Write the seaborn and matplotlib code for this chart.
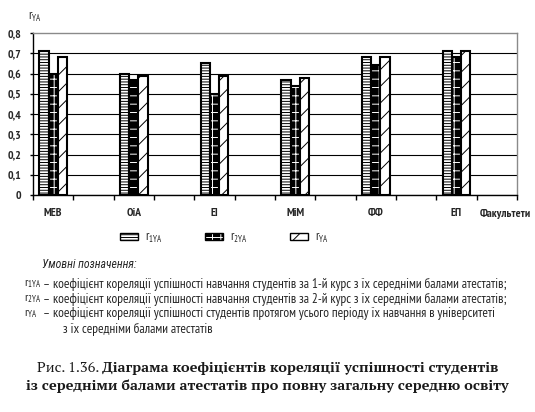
import matplotlib.pyplot as plt
import matplotlib.patches as mpatches
from matplotlib.colors import to_rgba
import numpy as np
import pandas as pd
import seaborn as sns

faculties = ['МЕВ', 'ОіА', 'ЕІ', 'МіМ', 'ФФ', 'ЕП']
r1_ya = [0.71, 0.60, 0.65, 0.57, 0.68, 0.71]
r2_ya = [0.60, 0.57, 0.50, 0.54, 0.64, 0.68]
r_ya = [0.68, 0.59, 0.59, 0.58, 0.68, 0.71]
series_names = ['r1YA', 'r2YA', 'rYA']
series_labels = [r'$\mathregular{r_{1YA}}$', r'$\mathregular{r_{2YA}}$', r'$\mathregular{r_{YA}}$']
y_ticks = [0, 0.1, 0.2, 0.3, 0.4, 0.5, 0.6, 0.7, 0.8]
y_tick_labels = ['0', '0,1', '0,2', '0,3', '0,4', '0,5', '0,6', '0,7', '0,8']

notes = [
    'коефіцієнт кореляції успішності навчання студентів за 1-й курс з їх середніми балами атестатів;',
    'коефіцієнт кореляції успішності навчання студентів за 2-й курс з їх середніми балами атестатів;',
    'коефіцієнт кореляції успішності студентів протягом усього періоду їх навчання в університеті',
]
notes_tail = 'з їх середніми балами атестатів'
caption_head = 'Рис. 1.36. '
caption_1 = 'Діаграма коефіцієнтів кореляції успішності студентів'
caption_2 = 'із середніми балами атестатів про повну загальну середню освіту'

df = pd.DataFrame({
    'faculty': faculties * 3,
    'series': np.repeat(series_names, len(faculties)),
    'value': r1_ya + r2_ya + r_ya,
})

# face colour, hatch, hatch colour for each series
styles = [('white', '------', 'black'), ('black', '++', 'white'), ('white', '//', 'black')]

sns.set_theme(style='white')
plt.rcParams['font.family'] = ['PT Sans Narrow', 'DejaVu Sans']
plt.rcParams['hatch.linewidth'] = 0.7

W, H = 535, 412
fig, ax = plt.subplots(figsize=(W / 100, H / 100), dpi=100)
fig.subplots_adjust(left=33/W, right=517/W, top=1-33/H, bottom=1-195/H)

sns.barplot(data=df, x='faculty', y='value', hue='series', order=faculties,
            hue_order=series_names, width=0.343, gap=0, legend=False, ax=ax,
            edgecolor='black', linewidth=1.5)

for cont, (fc, hatch, hc) in zip(ax.containers, styles):
    for bar in cont:
        bar.set_facecolor(fc)
        bar.set_hatch(hatch)
        bar._hatch_color = to_rgba(hc)

ax.set_xlim(-0.25, len(faculties) - 0.25)
ax.set_ylim(0, 0.8)
ax.set_xticks(range(len(faculties)), faculties, fontsize=8.5, fontweight='bold')
ax.set_xticks(np.arange(-0.25, len(faculties), 0.5), minor=True)
ax.tick_params(axis='x', which='major', length=0, pad=9)
ax.tick_params(axis='x', which='minor', bottom=True, length=3.5, width=1, color='black', direction='out')
ax.set_yticks(y_ticks, y_tick_labels, fontsize=8.5, fontweight='bold')
ax.tick_params(axis='y', left=True, length=2.5, width=1, color='black', pad=6)
ax.set_xlabel('')
ax.set_ylabel('')

ax.yaxis.grid(True, color='black', linewidth=0.8)
ax.set_axisbelow(True)
ax.get_ygridlines()[-1].set_visible(False)
for side in ['top', 'right']:
    ax.spines[side].set_color('#8a8a8a')
    ax.spines[side].set_linewidth(1)
for side in ['left', 'bottom']:
    ax.spines[side].set_color('black')
    ax.spines[side].set_linewidth(1)

fig.text(28/W, 1-17/H, r'$\mathregular{r_{YA}}$', fontsize=9, va='center', ha='left')
fig.text(505/W, 1-214/H, 'Факультети', fontsize=8.5, fontweight='bold', va='center', ha='center')

handles = []
for (fc, hatch, hc), lab in zip(styles, series_labels):
    p = mpatches.Patch(facecolor=fc, edgecolor='black', hatch=hatch, linewidth=1, label=lab)
    p._hatch_color = to_rgba(hc)
    handles.append(p)
fig.legend(handles=handles, loc='center', bbox_to_anchor=(224/W, 1-238/H), ncol=3,
           frameon=False, fontsize=9, handlelength=1.5, handleheight=0.5,
           handletextpad=0.5, columnspacing=3.4)

renderer = fig.canvas.get_renderer()


def fit_width(t, target_px):
    w = t.get_window_extent(renderer=renderer).width
    t.set_fontsize(t.get_fontsize() * target_px / w)
    return t.get_fontsize()


fig.text(42/W, 1-265/H, 'Умовні позначення:', fontsize=8.5, family='Roboto Condensed',
         style='italic', va='center')
rows = [284, 299, 314]
note_size = None
for lab, txt, yy in zip(series_labels, notes, rows):
    t = fig.text(43/W, 1-yy/H, '– ' + txt, fontsize=8, va='center')
    if note_size is None:
        note_size = fit_width(t, 466)
    t.set_fontsize(note_size)
    fig.text(24/W, 1-yy/H, lab, fontsize=note_size * 0.92, va='center')
fig.text(63/W, 1-329/H, notes_tail, fontsize=note_size, va='center')

c2 = fig.text(0.5, 1-386/H, caption_2, fontsize=9, family='PT Serif', fontweight='bold',
              va='center', ha='center', color='#1a1a1a')
cap_size = fit_width(c2, 481)
t1 = fig.text(0, 1-368/H, caption_head, fontsize=cap_size, family='PT Serif',
              va='center', ha='left', color='#1a1a1a')
t2 = ax.annotate(caption_1, xy=(1, 0.5), xycoords=t1, fontsize=cap_size, family='PT Serif',
                 fontweight='bold', va='center', ha='left', color='#1a1a1a')
w1 = t1.get_window_extent(renderer=renderer).width
w2 = t2.get_window_extent(renderer=renderer).width
t1.set_x((W - w1 - w2) / 2 / W)

plt.savefig('out.png', dpi=100)
